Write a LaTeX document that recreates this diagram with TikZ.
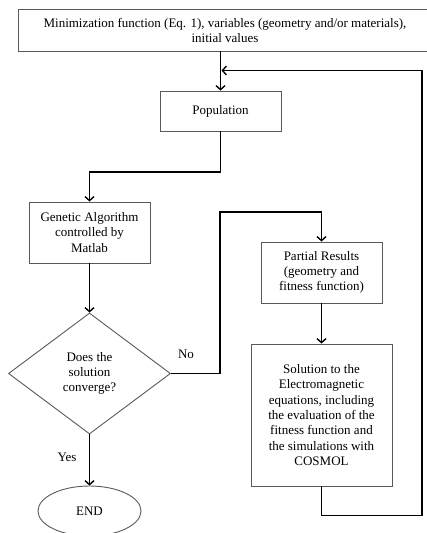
\documentclass[tikz,border=0pt]{standalone}
\usepackage{fontspec}
\setmainfont{Liberation Serif}
\usetikzlibrary{shapes.geometric,arrows.meta,calc}
\begin{document}
\begin{tikzpicture}[x=1pt,y=-1pt,
  every node/.style={font=\fontsize{13}{15.3}\selectfont},
  box/.style={draw=black!65,line width=0.9pt,rectangle,inner sep=0pt,align=center},
  arr/.style={draw=black,line width=1.8pt,-{Straight Barb[length=4pt,width=9pt,line width=1.4pt]}},
  conn/.style={draw=black,line width=1.8pt},
  lbl/.style={inner sep=0pt}]
\useasboundingbox (0,0) rectangle (427,533);
\clip (0,0) rectangle (427,533);
\node[box,minimum width=414pt,minimum height=41.5pt] (top) at (225,30.25)
  {Minimization function (Eq. 1), variables (geometry and/or materials),\\initial values};
\node[box,minimum width=121pt,minimum height=40pt] (pop) at (220.5,111) {Population};
\node[box,minimum width=121pt,minimum height=61pt] (ga) at (89.5,232.5)
  {Genetic Algorithm\\controlled by\\Matlab};
\node[draw=black!65,line width=0.9pt,diamond,inner sep=0pt,minimum width=162pt,minimum height=121pt,align=center] (dia) at (89.5,373.5)
  {Does the\\solution\\converge?};
\node[box,minimum width=121pt,minimum height=61pt] (part) at (321.5,272.5)
  {Partial Results\\(geometry and\\fitness function)};
\node[box,minimum width=141pt,minimum height=142pt] (sol) at (321.5,415)
  {Solution to the\\Electromagnetic\\equations, including\\the evaluation of the\\fitness function and\\the simulations with\\COSMOL};
\node[draw=black!65,line width=0.9pt,ellipse,inner sep=0pt,minimum width=103pt,minimum height=50pt] (end) at (89.5,511) {END};
\node[lbl] (no) at (186,354) {No};
\node[lbl] (yes) at (67,457) {Yes};
\coordinate (bend1) at (220.5,172);
\coordinate (bend2) at (220,212);
\coordinate (bend3) at (321.5,515.5);
\coordinate (bend4) at (422,70.5);
\coordinate (loopend) at (221.5,70.5);
\draw[arr] (top.south -| pop.north) -- (pop.north);
\draw[arr] (pop.south) -- (bend1) -| (ga.north);
\draw[arr] (ga.south) -- (dia.north);
\draw[arr] (dia.east) -| (bend2) -| (part.north);
\draw[arr] (part.south) -- (sol.north);
\draw[arr] (sol.south) -- (bend3) -| (bend4) -- (loopend);
\draw[arr] (dia.south) -- (end.north);
\end{tikzpicture}
\end{document}
